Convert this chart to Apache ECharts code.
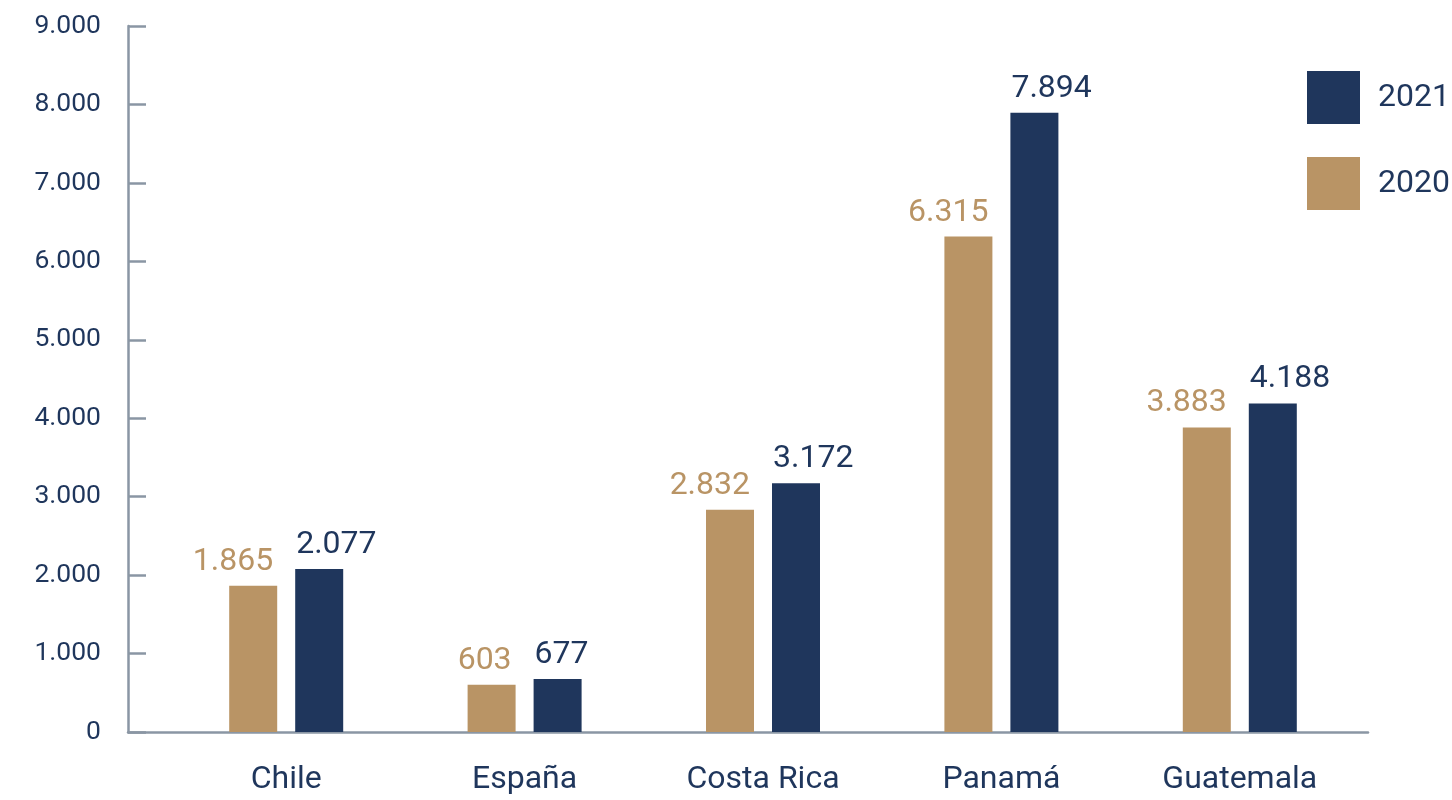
<!DOCTYPE html>
<html>
<head>
<meta charset="utf-8">
<script src="https://cdn.jsdelivr.net/npm/echarts@6/dist/echarts.min.js"></script>
<style>
  html, body { margin: 0; padding: 0; background: #fff; }
  #chart { width: 1452px; height: 800px; }
</style>
</head>
<body>
<div id="chart"></div>
<script>
// Countries and yearly values
const categories = ['Chile', 'España', 'Costa Rica', 'Panamá', 'Guatemala'];
const values2020 = [1865, 603, 2832, 6315, 3883];
const values2021 = [2077, 677, 3172, 7894, 4188];
const yTicks = [0, 1000, 2000, 3000, 4000, 5000, 6000, 7000, 8000, 9000];

const TAN = '#B99465';
const NAVY = '#1F365C';
const AXIS = '#8A96A4';
const FONT = 'Roboto, "Noto Sans", sans-serif';

// thousands separator with a dot
const fmt = v => String(Math.round(v)).replace(/\B(?=(\d{3})+(?!\d))/g, '.');

const yMin = yTicks[0];
const yMax = yTicks[yTicks.length - 1];
const yStep = yTicks[1] - yTicks[0];

const chart = echarts.init(document.getElementById('chart'), null, { renderer: 'canvas' });

chart.setOption({
  animation: false,
  textStyle: { fontFamily: FONT },
  grid: [
    // frame: y axis and baseline
    { left: 128, right: 84, top: 26, bottom: 68 },
    // bars
    { left: 167, right: 93, top: 26, bottom: 68 }
  ],
  legend: {
    data: ['2021', '2020'],
    orient: 'vertical',
    left: 1307,
    top: 71,
    padding: 0,
    itemWidth: 53,
    itemHeight: 53,
    itemGap: 33,
    icon: 'rect',
    textStyle: { color: NAVY, fontSize: 32, fontFamily: FONT, padding: [0, 0, 0, 13] }
  },
  xAxis: [
    {
      gridIndex: 0, type: 'value', min: 0, max: 1,
      axisLine: { show: true, onZero: false, lineStyle: { color: AXIS, width: 2.5 } },
      axisTick: { show: false }, axisLabel: { show: false }, splitLine: { show: false }
    },
    {
      gridIndex: 1, type: 'category', data: categories,
      axisLine: { show: false }, axisTick: { show: false },
      axisLabel: { color: NAVY, fontSize: 32, margin: 32, fontFamily: FONT },
      splitLine: { show: false }
    }
  ],
  yAxis: [
    {
      gridIndex: 0, type: 'value', min: yMin, max: yMax, interval: yStep,
      axisLine: { show: true, lineStyle: { color: AXIS, width: 2.5 } },
      axisTick: { show: true, inside: true, length: 18, lineStyle: { color: AXIS, width: 2.5 } },
      axisLabel: { color: NAVY, fontSize: 26.5, margin: 27, formatter: fmt, fontFamily: FONT },
      splitLine: { show: false }
    },
    {
      gridIndex: 1, type: 'value', min: yMin, max: yMax, interval: yStep,
      show: false
    }
  ],
  series: [
    {
      name: '2020', type: 'bar', xAxisIndex: 1, yAxisIndex: 1,
      data: values2020, barWidth: 48, barGap: '37.5%',
      itemStyle: { color: TAN },
      label: {
        show: true, position: 'top', distance: 8, align: 'right', offset: [20, 0],
        color: TAN, fontSize: 32, fontFamily: FONT, formatter: p => fmt(p.value)
      }
    },
    {
      name: '2021', type: 'bar', xAxisIndex: 1, yAxisIndex: 1,
      data: values2021, barWidth: 48, barGap: '37.5%',
      itemStyle: { color: NAVY },
      label: {
        show: true, position: 'top', distance: 8, align: 'left', offset: [-23, 0],
        color: NAVY, fontSize: 32, fontFamily: FONT, formatter: p => fmt(p.value)
      }
    }
  ]
});
</script>
</body>
</html>
